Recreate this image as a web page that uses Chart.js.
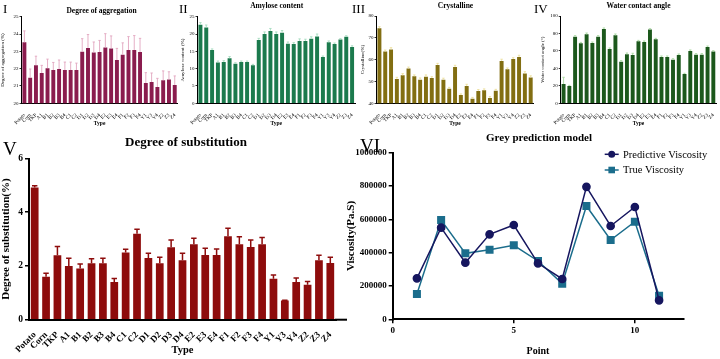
<!DOCTYPE html>
<html>
<head>
<meta charset="utf-8">
<script src="https://cdn.jsdelivr.net/npm/chart.js@4.4.1/dist/chart.umd.min.js"></script>
<style>
  body { margin: 0; background: #fff; }
  #wrap { position: relative; width: 720px; height: 359px; overflow: hidden; font-family: "Liberation Serif", serif; color: #000; }
  canvas { position: absolute; }
  .num { position: absolute; line-height: 1; white-space: nowrap; }
  .ttl { position: absolute; line-height: 1; white-space: nowrap; font-weight: bold; transform: translate(-50%, -50%); }
</style>
</head>
<body>
<div id="wrap">
  <canvas id="c1" width="180" height="130" style="left:0;top:0"></canvas>
  <canvas id="c2" width="180" height="130" style="left:180px;top:0"></canvas>
  <canvas id="c3" width="180" height="130" style="left:360px;top:0"></canvas>
  <canvas id="c4" width="180" height="130" style="left:540px;top:0"></canvas>
  <canvas id="c5" width="360" height="229" style="left:0;top:130px"></canvas>
  <canvas id="c6" width="375" height="229" style="left:345px;top:130px"></canvas>

  <div class="num" style="left:3px;top:1.5px;font-size:13px">I</div>
  <div class="num" style="left:179px;top:1.5px;font-size:13px">II</div>
  <div class="num" style="left:352px;top:1.5px;font-size:13px">III</div>
  <div class="num" style="left:534px;top:1.5px;font-size:13px">IV</div>
  <div class="num" style="left:3px;top:139px;font-size:19px">V</div>
  <div class="num" style="left:360px;top:135.5px;font-size:19px">VI</div>

  <div class="ttl" style="left:101.5px;top:10.7px;font-size:7.5px">Degree of aggregation</div>
  <div class="ttl" style="left:276.7px;top:5.7px;font-size:7.5px">Amylose content</div>
  <div class="ttl" style="left:455.5px;top:5.5px;font-size:7.5px">Crystalline</div>
  <div class="ttl" style="left:638.5px;top:5.5px;font-size:7.5px">Water contact angle</div>
  <div class="ttl" style="left:186px;top:141px;font-size:13px">Degree of substitution</div>
  <div class="ttl" style="left:539px;top:137px;font-size:11px">Grey prediction model</div>
</div>
<script>
// 샘플 종류 (모든 막대 그래프 공통)
const types = ['Potato','Corn','TKP','A1','B1','B2','B3','B4','C1','C2','D1','D2','D3','D4','E2','E3','E4','F1','F2','F3','F4','Y1','Y3','Y4','Z2','Z3','Z4'];

// I. Degree of aggregation
const aggregation = [23.52,21.48,22.2,21.75,22.03,21.92,21.98,21.92,21.92,21.92,22.98,23.2,22.94,22.96,23.22,23.17,22.5,22.8,23.08,23.08,22.96,21.17,21.23,20.94,21.33,21.38,21.06];
const aggregationErr = [0.66,0.5,0.52,0.44,0.52,0.44,0.52,0.46,0.46,0.4,0.75,0.77,0.6,0.67,0.8,0.72,0.67,0.69,0.77,0.83,0.79,0.6,0.52,0.5,0.54,0.44,0.52];

// II. Amylose content
const amylose = [22.7,21.9,15.4,11.8,11.9,13.0,11.4,11.9,11.9,11.0,18.3,20.0,20.9,20.0,20.4,17.2,17.1,18.0,18.0,18.65,19.3,13.4,17.6,17.1,18.4,19.2,16.25];
const amyloseErr = [0.6,0.7,0.3,0.4,0.4,0.5,0.3,0.3,0.3,0.25,0.45,0.6,0.7,0.6,0.6,0.5,0.4,0.6,0.5,0.55,0.7,0.25,0.4,0.3,0.25,0.3,0.35];

// III. Crystalline
const crystalline = [74.4,63.7,64.7,51.1,52.8,56.0,52.4,50.8,52.2,51.6,57.6,50.8,46.7,56.6,43.8,47.9,42.1,45.6,46.0,42.4,45.8,59.4,55.6,60.3,61.2,53.7,51.8];
const crystallineErr = [0.7,0.7,0.8,0.8,0.8,0.6,0.6,0.8,0.8,0.6,0.7,0.7,0.6,0.8,0.5,0.8,0.6,0.7,0.6,0.7,0.6,0.8,0.6,0.6,0.8,0.8,0.8];

// IV. Water contact angle
const contactAngle = [22.1,19.8,76.3,68.7,79.0,69.1,76.3,85.1,62.2,77.9,47.7,56.1,55.3,71.0,70.2,84.4,73.3,53.1,53.1,50.0,55.3,33.6,59.9,55.7,55.7,64.5,59.2];
const contactAngleErr = [7.7,0.8,1.2,1.1,1.5,1.1,1.2,1.2,1.2,1.5,1.2,1.5,2.0,1.1,1.2,1.1,1.1,1.1,1.1,1.1,1.2,0.8,1.2,1.2,1.2,1.1,1.1];

// V. Degree of substitution
const substitution = [4.92,1.60,2.40,2.0,1.91,2.10,2.10,1.40,2.50,3.20,2.30,2.10,2.70,2.21,2.81,2.41,2.41,3.11,2.81,2.71,2.81,1.52,0.71,1.40,1.30,2.21,2.11];
const substitutionErr = [0.07,0.13,0.32,0.29,0.16,0.17,0.19,0.13,0.12,0.17,0.17,0.22,0.27,0.26,0.22,0.25,0.22,0.29,0.28,0.26,0.25,0.14,0.01,0.15,0.12,0.19,0.21];

// VI. Grey prediction model
const points = [1,2,3,4,5,6,7,8,9,10,11];
const predictiveViscosity = [246000,550000,340000,510000,566000,336000,242000,795000,560000,674000,114000];
const trueViscosity = [152000,596000,396000,418000,444000,350000,214000,680000,476000,586000,142000];

Chart.defaults.font.family = '"Liberation Serif", serif';
Chart.defaults.color = '#000';
Chart.defaults.animation = false;

// 오차 막대 플러그인
function errorBars(errs, color, width, cap) {
  return {
    id: 'errorBars',
    afterDatasetsDraw(chart) {
      const ctx = chart.ctx, y = chart.scales.y;
      const ds = chart.data.datasets[0];
      chart.getDatasetMeta(0).data.forEach((bar, i) => {
        const top = y.getPixelForValue(ds.data[i] + errs[i]);
        const half = bar.width * cap / 2;
        ctx.save();
        ctx.strokeStyle = color;
        ctx.lineWidth = width;
        ctx.beginPath();
        ctx.moveTo(bar.x, bar.y);
        ctx.lineTo(bar.x, top);
        ctx.moveTo(bar.x - half, top);
        ctx.lineTo(bar.x + half, top);
        ctx.stroke();
        ctx.restore();
      });
    }
  };
}

// x축 선을 오른쪽으로 조금 연장
function axisExtend(toX, width) {
  return {
    id: 'axisExtend',
    afterDraw(chart) {
      const a = chart.chartArea, ctx = chart.ctx;
      ctx.save();
      ctx.strokeStyle = '#000';
      ctx.lineWidth = width;
      ctx.beginPath();
      ctx.moveTo(a.right - 1, a.bottom);
      ctx.lineTo(toX, a.bottom);
      ctx.stroke();
      ctx.restore();
    }
  };
}

// 상단 작은 막대 그래프
function topPanel(id, values, errs, color, errColor, yMin, yMax, step, yTitle, area) {
  const cv = document.getElementById(id);
  new Chart(cv, {
    type: 'bar',
    data: {
      labels: types,
      datasets: [{ data: values, backgroundColor: color, borderWidth: 0, categoryPercentage: 1, barPercentage: 0.68 }]
    },
    options: {
      responsive: false,
      layout: { padding: { left: 0, top: area.top, right: cv.width - area.right, bottom: 0 } },
      plugins: { legend: { display: false }, tooltip: { enabled: false } },
      scales: {
        x: {
          afterFit: s => { s.height = cv.height - area.bottom; },
          grid: { display: false },
          border: { display: true, color: '#000', width: 1 },
          ticks: { autoSkip: false, minRotation: 45, maxRotation: 45, padding: 1, font: { size: 5 } },
          title: { display: true, text: 'Type', font: { size: 5.5, weight: 'bold' }, padding: { top: 0, bottom: 3 } }
        },
        y: {
          min: yMin, max: yMax,
          afterFit: s => { s.width = area.left; },
          grid: { display: true, drawOnChartArea: false, tickLength: 2, color: '#000', lineWidth: 0.8 },
          border: { display: true, color: '#000', width: 1 },
          ticks: { stepSize: step, padding: 1, font: { size: 5 } },
          title: { display: true, text: yTitle, font: { size: 5 }, padding: { top: 0, bottom: 2 } }
        }
      }
    },
    plugins: [errorBars(errs, errColor, 0.9, 0.6)]
  });
}

topPanel('c1', aggregation, aggregationErr, '#8a1c4e', '#e2a6c0', 20, 25, 1, 'Degree of aggregation (%)', { left: 21.5, right: 179, top: 16.7, bottom: 103.3 });
topPanel('c2', amylose, amyloseErr, '#1b7a4d', '#a6dcbf', 0, 25, 5, 'Amylose content (%)', { left: 17.5, right: 175, top: 16.7, bottom: 103.3 });
topPanel('c3', crystalline, crystallineErr, '#826e12', '#ece09e', 40, 80, 10, 'Crystalline(%)', { left: 16.5, right: 173.6, top: 16, bottom: 103.3 });
topPanel('c4', contactAngle, contactAngleErr, '#1c581c', '#a9d9a2', 0, 100, 20, 'Water contact angle (°)', { left: 20.7, right: 176.2, top: 16, bottom: 103.3 });

// V. Degree of substitution
const c5 = document.getElementById('c5');
new Chart(c5, {
  type: 'bar',
  data: {
    labels: types,
    datasets: [{ data: substitution, backgroundColor: '#8e0c0c', borderWidth: 0, categoryPercentage: 1, barPercentage: 0.68 }]
  },
  options: {
    responsive: false,
    layout: { padding: { left: 0, top: 28.5, right: 360 - 336, bottom: 0 } },
    plugins: { legend: { display: false }, tooltip: { enabled: false } },
    scales: {
      x: {
        afterFit: s => { s.height = 229 - 189.7; },
        grid: { display: false },
        border: { display: true, color: '#000', width: 2 },
        ticks: { autoSkip: false, minRotation: 45, maxRotation: 45, padding: 2, font: { size: 9, weight: 'bold' } },
        title: { display: true, text: 'Type', font: { size: 10.5, weight: 'bold' }, padding: { top: 0, bottom: 2 } }
      },
      y: {
        min: 0, max: 6,
        afterFit: s => { s.width = 29; },
        grid: { display: true, drawOnChartArea: false, tickLength: 4, color: '#000', lineWidth: 1.5 },
        border: { display: true, color: '#000', width: 2 },
        ticks: { stepSize: 2, padding: 2, font: { size: 9.5, weight: 'bold' } },
        title: { display: true, text: 'Degree of substitution(%)', font: { size: 11, weight: 'bold' }, padding: { top: 0, bottom: 0 } }
      }
    }
  },
  plugins: [errorBars(substitutionErr, '#8e0c0c', 1.5, 0.7), axisExtend(347, 2)]
});

// VI. 범례 직접 그리기
const legendVI = {
  id: 'legendVI',
  afterDraw(chart) {
    const ctx = chart.ctx;
    chart.data.datasets.forEach((ds, i) => {
      const x = 266.7, y = 24.3 + i * 15.7;
      ctx.save();
      ctx.strokeStyle = ds.borderColor;
      ctx.fillStyle = ds.backgroundColor;
      ctx.lineWidth = 1.5;
      ctx.beginPath();
      ctx.moveTo(x - 7, y);
      ctx.lineTo(x + 7, y);
      ctx.stroke();
      if (ds.pointStyle === 'rect') {
        ctx.fillRect(x - 3.3, y - 3.3, 6.6, 6.6);
      } else {
        ctx.beginPath();
        ctx.arc(x, y, 3.5, 0, Math.PI * 2);
        ctx.fill();
      }
      ctx.fillStyle = '#000';
      ctx.font = '10.5px "Liberation Serif", serif';
      ctx.textBaseline = 'middle';
      ctx.fillText(ds.label, 278, y + 0.5);
      ctx.restore();
    });
  }
};

const c6 = document.getElementById('c6');
new Chart(c6, {
  type: 'line',
  data: {
    datasets: [
      {
        label: 'Predictive Viscosity',
        data: points.map((p, i) => ({ x: p, y: predictiveViscosity[i] })),
        borderColor: '#16165f', backgroundColor: '#16165f',
        borderWidth: 1.5, pointStyle: 'circle', pointRadius: 3.6, tension: 0
      },
      {
        label: 'True Viscosity',
        data: points.map((p, i) => ({ x: p, y: trueViscosity[i] })),
        borderColor: '#1b6d8c', backgroundColor: '#1b6d8c',
        borderWidth: 1.5, pointStyle: 'rect', pointRadius: 4.6, tension: 0
      }
    ]
  },
  options: {
    responsive: false,
    layout: { padding: { left: 0, top: 22.7, right: 375 - 338.3, bottom: 0 } },
    plugins: { legend: { display: false }, tooltip: { enabled: false } },
    scales: {
      x: {
        type: 'linear', min: 0, max: 12,
        afterFit: s => { s.height = 229 - 189.3; },
        afterBuildTicks: s => { s.ticks = s.ticks.filter(t => t.value % 5 === 0); },
        grid: { display: true, drawOnChartArea: false, tickLength: 4, color: '#000', lineWidth: 1.5 },
        border: { display: true, color: '#000', width: 2 },
        ticks: { stepSize: 5, padding: 2, font: { size: 9, weight: 'bold' }, callback: v => String(v) },
        title: { display: true, text: 'Point', font: { size: 10, weight: 'bold' }, padding: { top: 0, bottom: 2 } }
      },
      y: {
        min: 0, max: 1000000,
        afterFit: s => { s.width = 47.7; },
        grid: { display: true, drawOnChartArea: false, tickLength: 4, color: '#000', lineWidth: 1.5 },
        border: { display: true, color: '#000', width: 2 },
        ticks: { stepSize: 200000, padding: 2, font: { size: 9, weight: 'bold' }, callback: v => String(v) },
        title: { display: true, text: 'Viscosity(Pa.S)', font: { size: 11, weight: 'bold' }, padding: { top: 0, bottom: 0 } }
      }
    }
  },
  plugins: [legendVI]
});
</script>
</body>
</html>
